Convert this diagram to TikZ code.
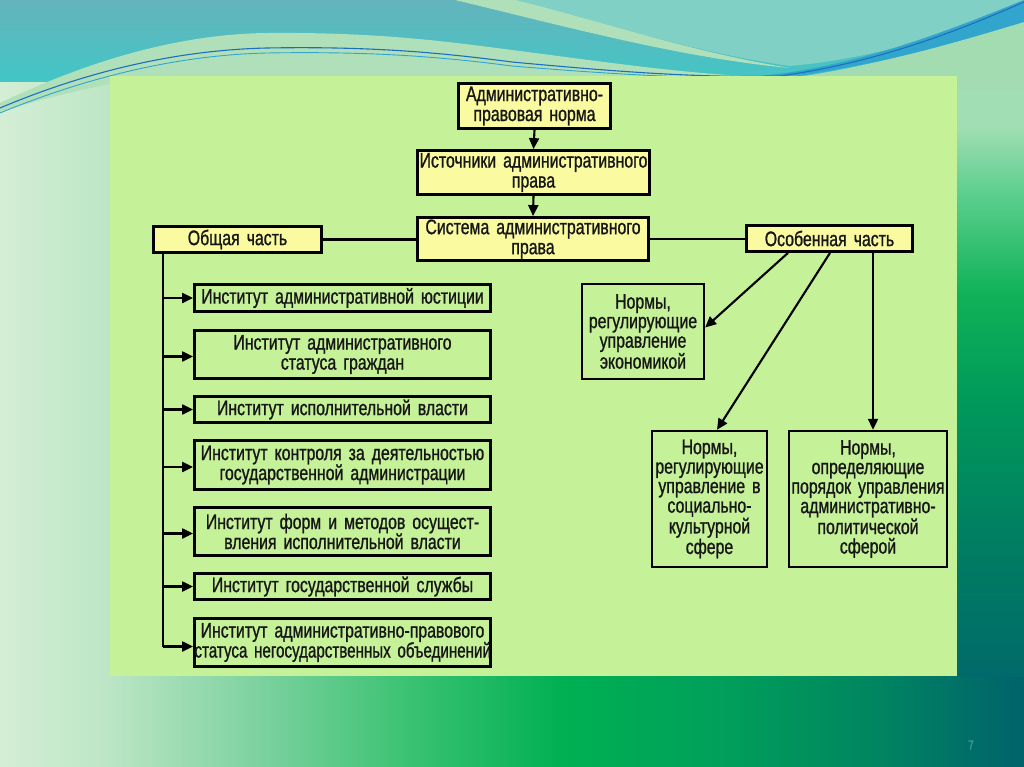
\documentclass[tikz,border=0pt]{standalone}
\usepackage{fontspec}
\setmainfont{Liberation Sans}[FakeStretch=0.755,FakeBold=1.0]
\usetikzlibrary{arrows.meta}
\definecolor{panel}{RGB}{197,241,152}
\definecolor{ybox}{RGB}{250,250,160}
\definecolor{ink}{RGB}{22,22,22}
\definecolor{c0}{RGB}{212,238,214}
\definecolor{c1}{RGB}{190,230,198}
\definecolor{c2}{RGB}{126,210,160}
\definecolor{c3}{RGB}{58,194,114}
\definecolor{c4}{RGB}{0,176,82}
\definecolor{c5}{RGB}{0,160,90}
\definecolor{c6}{RGB}{0,134,96}
\definecolor{c7}{RGB}{0,98,108}
\definecolor{r0}{RGB}{0,106,106}
\definecolor{r2}{RGB}{0,126,98}
\definecolor{r3}{RGB}{0,154,90}
\definecolor{r4}{RGB}{16,178,88}
\definecolor{r5}{RGB}{90,206,140}
\definecolor{r6}{RGB}{160,222,178}
\definecolor{r7}{RGB}{170,224,184}
\definecolor{tealTop}{RGB}{100,180,188}
\definecolor{tealBot}{RGB}{66,198,198}
\definecolor{tealLight}{RGB}{128,208,198}
\definecolor{paleband}{RGB}{176,224,186}
\definecolor{palegreen}{RGB}{164,220,178}
\definecolor{ribbon}{RGB}{50,165,205}
\definecolor{blueline}{RGB}{30,110,190}
\definecolor{pagenum}{RGB}{70,150,150}
\pgfdeclarehorizontalshading{bgshade}{100bp}{color(0bp)=(c0); color(25bp)=(c0); color(30bp)=(c1); color(37.5bp)=(c2); color(45bp)=(c3); color(52.5bp)=(c4); color(60bp)=(c5); color(67.5bp)=(c6); color(75bp)=(c7); color(100bp)=(c7)}
\pgfdeclareverticalshading{rshade}{100bp}{color(0bp)=(r0); color(25bp)=(r0); color(35bp)=(r2); color(45.6bp)=(r3); color(53.3bp)=(r4); color(60.5bp)=(r5); color(65.6bp)=(r6); color(75bp)=(r7); color(100bp)=(r7)}
\begin{document}
\begin{tikzpicture}[x=1pt,y=-1pt,
  box/.style={draw=black, line width=2.8pt, align=center, inner sep=0pt, text=ink,
    font=\fontsize{21}{20}\selectfont},
  bx/.style 2 args={minimum width=#1, text width=#1, minimum height=#2},
  ybox/.style={box, fill=ybox},
  gbox/.style={box, fill=panel},
  rbox/.style={box, fill=panel, line width=2.4pt, font=\fontsize{21}{19.5}\selectfont},
  conn/.style={line width=2.1pt, draw=black},
  arr/.style={conn, -{Triangle[length=11pt,width=10pt]}}]
\useasboundingbox (0,0) rectangle (1024,767);
% ---------- background ----------
\shade[shading=bgshade] (0,0) rectangle (1024,767);
\shade[shading=rshade] (957,0) rectangle (1024,676);
\shade[top color=tealTop, bottom color=tealBot] (0,0) rectangle (1024,82);
\fill[tealLight] (500,0) .. controls (600,20) and (690,52) .. (790,66) .. controls (880,58) and (960,30) .. (1024,8) -- (1024,0) -- cycle;
\fill[paleband] (455,0) .. controls (560,25) and (680,58) .. (790,68) .. controls (690,52) and (590,18) .. (515,0) -- cycle;
\fill[paleband] (0,103) .. controls (90,60) and (180,34) .. (267,33) .. controls (380,32) and (450,42) .. (512,50) .. controls (620,64) and (700,76) .. (790,78) -- (790,84) -- (110,84) .. controls (60,94) and (25,104) .. (0,112) -- cycle;
\fill[palegreen] (790,78) .. controls (880,66) and (960,40) .. (1024,18) -- (1024,90) -- (790,90) -- cycle;
\fill[ribbon] (760,76) .. controls (860,66) and (950,30) .. (1024,0) -- (1024,22) .. controls (950,44) and (860,72) .. (760,78) -- cycle;
\draw[blueline, line width=1.1pt] (0,108) .. controls (90,70) and (180,50) .. (267,48) .. controls (380,46) and (450,54) .. (512,62) .. controls (620,72) and (700,78) .. (780,76) .. controls (880,62) and (960,30) .. (1024,2);
\draw[ribbon, line width=0.9pt] (0,113) .. controls (90,76) and (180,55) .. (267,53) .. controls (380,51) and (450,58) .. (512,66) .. controls (620,75) and (700,79) .. (780,78) .. controls (880,66) and (960,36) .. (1024,10);
% ---------- panel ----------
\fill[panel] (110,76) rectangle (957,676);
\node[font=\fontsize{13}{13}\selectfont, text=pagenum] (pg) at (971,745) {7};
% ---------- top chain ----------
\node[ybox, bx={152pt}{45pt}] (n1) at (534.5,106) {\mbox{Административно-}\\\mbox{правовая норма}};
\node[ybox, bx={232pt}{44pt}] (n2) at (533.5,172.5) {\mbox{Источники административного}\\права};
\node[ybox, bx={231pt}{43pt}] (n3) at (533,239) {\mbox{Система административного}\\права};
\node[ybox, bx={168pt}{26pt}] (gen) at (237.5,239.5) {Общая часть};
\node[ybox, bx={166pt}{26pt}] (spec) at (829.5,238.5) {Особенная часть};
\draw[arr] (n1.south) -- (n2.north);
\draw[arr] (n2.south) -- (n3.north);
\draw[conn] (gen.east) -- (gen.east -| n3.west);
\draw[conn] (n3.east) -- (n3.east -| spec.west);
% ---------- left column ----------
\node[gbox, bx={296pt}{27pt}] (L1) at (342.5,298) {\mbox{Институт административной юстиции}};
\node[gbox, bx={296pt}{48pt}] (L2) at (342.5,354.5) {\mbox{Институт административного}\\\mbox{статуса граждан}};
\node[gbox, bx={296pt}{26pt}] (L3) at (342.5,409.5) {\mbox{Институт исполнительной власти}};
\node[gbox, bx={296pt}{49pt}] (L4) at (342.5,465) {\mbox{Институт контроля за деятельностью}\\\mbox{государственной администрации}};
\node[gbox, bx={296pt}{48pt}] (L5) at (342.5,531.5) {\mbox{Институт форм и методов осущест-}\\\mbox{вления исполнительной власти}};
\node[gbox, bx={296pt}{26pt}] (L6) at (342.5,586.5) {\mbox{Институт государственной службы}};
\node[gbox, bx={296pt}{48pt}] (L7) at (342.5,642.5) {\mbox{Институт административно-правового}\\\scalebox{0.955}[1]{статуса негосударственных объединений}};
\coordinate (trtop) at ([xshift=-74.5pt]gen.south);
\coordinate (trbot) at (trtop |- L7.west);
\draw[conn] (trtop) -- ([yshift=-4pt]trbot);
\draw[arr] (trtop |- L1.west) -- (L1.west);
\draw[arr] ([yshift=-2pt]trtop |- L2.west) -- ([yshift=-2pt]L2.west);
\draw[arr] (trtop |- L3.west) -- (L3.west);
\draw[arr] ([yshift=-2pt]trtop |- L4.west) -- ([yshift=-2pt]L4.west);
\draw[arr] ([yshift=-2pt]trtop |- L5.west) -- ([yshift=-2pt]L5.west);
\draw[arr] (trtop |- L6.west) -- (L6.west);
\draw[arr] ([yshift=-4pt]trtop |- L7.west) -- ([yshift=-4pt]L7.west);
% ---------- right side ----------
\node[rbox, bx={122pt}{95pt}] (R1) at (643,331.5) {Нормы,\\\mbox{регулирующие}\\\mbox{управление}\\\mbox{экономикой}};
\node[rbox, bx={115pt}{136pt}] (R2) at (709.5,499) {Нормы,\\\mbox{регулирующие}\\\mbox{управление в}\\\mbox{социально-}\\\mbox{культурной}\\сфере};
\node[rbox, bx={158pt}{136pt}] (R3) at (868,499) {Нормы,\\\mbox{определяющие}\\\mbox{порядок управления}\\\mbox{административно-}\\\mbox{политической}\\сферой};
\coordinate (s1) at ([xshift=-41.5pt]spec.south);
\coordinate (s2) at ([xshift=0.5pt]spec.south);
\coordinate (s3) at ([xshift=43.5pt]spec.south);
\draw[arr] (s1) -- ([yshift=4pt]R1.east);
\draw[arr] (s2) -- ([xshift=7.5pt]R2.north);
\draw[arr] (s3) -- (s3 |- R3.north);
\end{tikzpicture}
\end{document}
